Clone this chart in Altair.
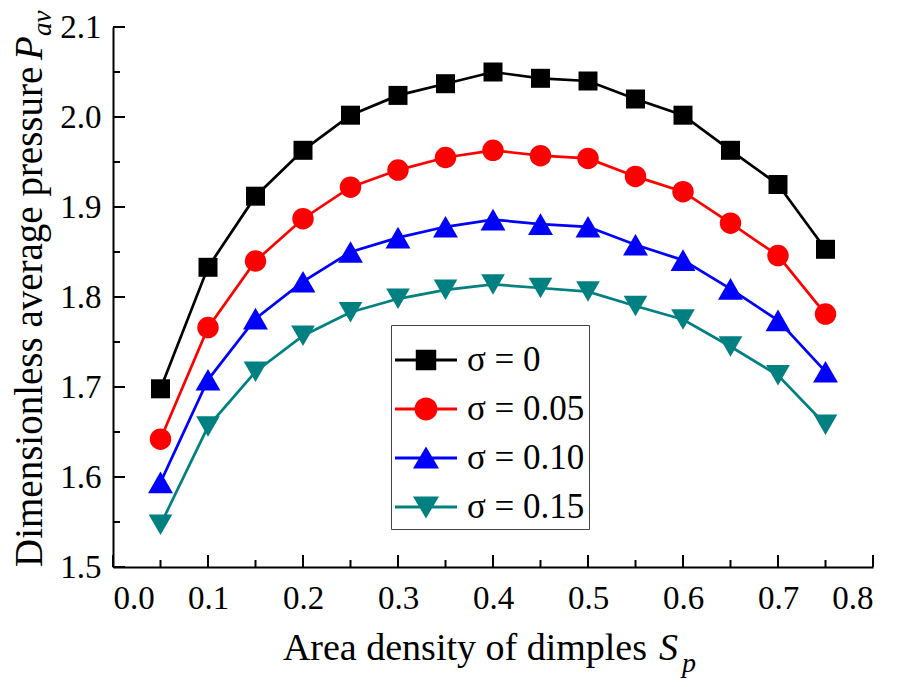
import altair as alt
import pandas as pd

# ---------------- data ----------------
sp = [0.05, 0.10, 0.15, 0.20, 0.25, 0.30, 0.35, 0.40, 0.45, 0.50, 0.55, 0.60, 0.65, 0.70, 0.75]
p_sigma_000 = [1.698, 1.833, 1.912, 1.963, 2.002, 2.024, 2.037, 2.050, 2.043, 2.040, 2.020, 2.002, 1.963, 1.925, 1.853]
p_sigma_005 = [1.642, 1.766, 1.840, 1.887, 1.922, 1.941, 1.955, 1.963, 1.957, 1.954, 1.934, 1.917, 1.882, 1.846, 1.781]
p_sigma_010 = [1.594, 1.708, 1.776, 1.817, 1.850, 1.866, 1.878, 1.886, 1.881, 1.878, 1.858, 1.841, 1.809, 1.774, 1.717]
p_sigma_015 = [1.547, 1.656, 1.717, 1.757, 1.783, 1.798, 1.808, 1.814, 1.810, 1.806, 1.790, 1.775, 1.745, 1.713, 1.658]

series_names = ["σ = 0", "σ = 0.05", "σ = 0.10", "σ = 0.15"]
series_values = [p_sigma_000, p_sigma_005, p_sigma_010, p_sigma_015]

x_major = [0.0, 0.1, 0.2, 0.3, 0.4, 0.5, 0.6, 0.7, 0.8]
x_minor = [0.05, 0.15, 0.25, 0.35, 0.45, 0.55, 0.65, 0.75]
y_major = [1.5, 1.6, 1.7, 1.8, 1.9, 2.0, 2.1]
y_minor = [1.55, 1.65, 1.75, 1.85, 1.95, 2.05]

x_title = "Area density of dimples"
x_title_sym = "S"
x_title_sub = "p"
y_title = "Dimensionless average pressure"
y_title_sym = "P"
y_title_sub = "av"

# ---------------- styles ----------------
series_colors = ["#000000", "#ff0000", "#0000ff", "#008080"]
series_shapes = ["square", "circle", "triangle-up", "triangle-down"]
series_sizes = [361, 460, 620, 560]
LINE = "M-1,-0.045H1V0.045H-1Z "
legend_paths = [
    LINE + "M-0.33,-0.33H0.33V0.33H-0.33Z",
    LINE + "M-0.37,0A0.37,0.37 0 1,1 0.37,0A0.37,0.37 0 1,1 -0.37,0Z",
    LINE + "M0,-0.37L0.42,0.34L-0.42,0.34Z",
    LINE + "M-0.42,-0.34L0.42,-0.34L0,0.37Z",
]

FONT = "Liberation Serif"
W, H = 760, 540

rows = []
for name, vals in zip(series_names, series_values):
    for x, v in zip(sp, vals):
        rows.append({"sp": x, "pav": v, "series": name})
df = pd.DataFrame(rows)

xscale = alt.Scale(domain=[0, 0.8], nice=False, zero=False)
yscale = alt.Scale(domain=[1.5, 2.1], nice=False, zero=False)

x_axis = alt.Axis(values=x_major, format=".1f", title=None, ticks=False, grid=False,
                  domainColor="black", domainWidth=2, labelFont=FONT, labelFontSize=33,
                  labelColor="black", labelPadding=15)
y_axis = alt.Axis(values=y_major, format=".1f", title=None, ticks=False, grid=False,
                  domainColor="black", domainWidth=2, labelFont=FONT, labelFontSize=33,
                  labelColor="black", labelPadding=12)


def X(field):
    return alt.X(field, scale=xscale, axis=x_axis)


def Y(field):
    return alt.Y(field, scale=yscale, axis=y_axis)


base = alt.Chart(df)

line_layers = []
point_layers = []
for name, color, shape, size in zip(series_names, series_colors, series_shapes, series_sizes):
    sub = base.transform_filter(alt.datum.series == name)
    line_layers.append(
        sub.mark_line(strokeWidth=2.7, color=color).encode(x=X("sp:Q"), y=Y("pav:Q"), order="sp:Q")
    )
    point_layers.append(
        sub.mark_point(filled=True, shape=shape, size=size, opacity=1, color=color)
        .encode(x=X("sp:Q"), y=Y("pav:Q"))
    )

leg = alt.Legend(title=None, orient="none", legendX=278, legendY=298, direction="vertical",
                 symbolSize=3844, symbolStrokeWidth=0, symbolOpacity=1,
                 labelFont=FONT, labelFontSize=35, labelColor="black", labelOffset=10,
                 labelLimit=400, padding=4, rowPadding=-8,
                 strokeColor="#444444", fillColor="white", cornerRadius=0)

legend_layer = base.mark_point(filled=True, opacity=0).encode(
    x=X("sp:Q"),
    y=Y("pav:Q"),
    color=alt.Color("series:N", scale=alt.Scale(domain=series_names, range=series_colors), legend=leg),
    shape=alt.Shape("series:N", scale=alt.Scale(domain=series_names, range=legend_paths), legend=leg),
)


def xticks(vals, length):
    return alt.Chart(pd.DataFrame({"t": vals})).mark_rule(color="black", strokeWidth=2).encode(
        x=X("t:Q"), y=alt.value(H), y2=alt.value(H - length))


def yticks(vals, length):
    return alt.Chart(pd.DataFrame({"t": vals})).mark_rule(color="black", strokeWidth=2).encode(
        y=Y("t:Q"), x=alt.value(0), x2=alt.value(length))


def txt(text, x, y, size, style="normal", angle=0, align="left"):
    return alt.Chart(alt.Data(values=[{}])).mark_text(
        text=text, font=FONT, fontSize=size, fontStyle=style, angle=angle, align=align,
        baseline="alphabetic", color="black").encode(x=alt.value(x), y=alt.value(y))


texts = [
    txt(x_title, 534, 633, 38, align="right"),
    txt(x_title_sym, 546, 633, 38, style="italic"),
    txt(x_title_sub, 569, 645, 28, style="italic"),
    txt(y_title, -71, 540, 39, angle=270),
    txt(y_title_sym, -71, 33, 39, style="italic", angle=270),
    txt(y_title_sub, -62, 9, 27, style="italic", angle=270),
]

chart = alt.layer(
    *line_layers, *point_layers, legend_layer,
    xticks(x_major, 12), xticks(x_minor, 7), yticks(y_major, 12), yticks(y_minor, 7),
    *texts,
).properties(
    width=W, height=H,
    padding={"left": 105, "top": 19, "right": 17, "bottom": 112},
    autosize=alt.AutoSizeParams(type="none"),
).configure_view(stroke=None)

chart.save("out.html", embed_options={"renderer": "svg", "actions": False})
